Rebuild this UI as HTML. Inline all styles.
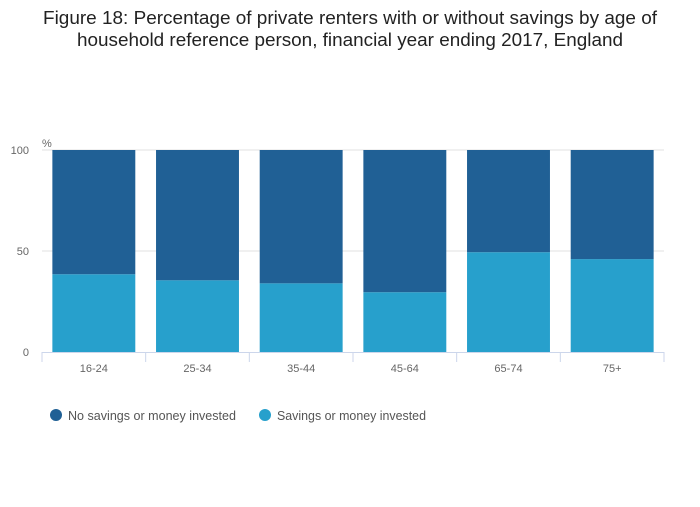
<!DOCTYPE html>
<html><head><meta charset="utf-8"><style>
body{margin:0;background:#fff;font-family:"Liberation Sans",sans-serif}
</style></head><body>
<svg id="chart" width="700" height="502" xmlns="http://www.w3.org/2000/svg">
<text x="350" y="24" text-anchor="middle" font-size="18.5" fill="#222" textLength="614" lengthAdjust="spacingAndGlyphs">Figure 18: Percentage of private renters with or without savings by age of</text>
<text x="350" y="46" text-anchor="middle" font-size="18.5" fill="#222" textLength="546" lengthAdjust="spacingAndGlyphs">household reference person, financial year ending 2017, England</text>
<text x="42" y="147" font-size="11" fill="#666">%</text>
<g id="grid"></g><g id="bars"></g><g id="axis"></g>
<g>
<circle cx="56" cy="415" r="6" fill="#206095"/>
<text x="68" y="420" font-size="12.5" fill="#555" textLength="168" lengthAdjust="spacingAndGlyphs">No savings or money invested</text>
<circle cx="265" cy="415" r="6" fill="#27a0cc"/>
<text x="277" y="420" font-size="12.5" fill="#555" textLength="149" lengthAdjust="spacingAndGlyphs">Savings or money invested</text>
</g>
</svg>
<script>
const categories=["16-24","25-34","35-44","45-64","65-74","75+"];
const savings=[38.5,35.5,34.0,29.6,49.4,46.0];
const noSavings=[61.5,64.5,66.0,70.4,50.6,54.0];
const yTicks=[0,50,100];
const NS="http://www.w3.org/2000/svg";
const x0=42,x1=664,y0=352,y1=150;
const bw=(x1-x0)/categories.length;
const y=v=>y0-(v/100)*(y0-y1);
function mk(t,a,p){const e=document.createElementNS(NS,t);for(const k in a)e.setAttribute(k,a[k]);p.appendChild(e);return e;}
const grid=document.getElementById('grid'),bars=document.getElementById('bars'),axis=document.getElementById('axis');
yTicks.forEach(t=>{
 if(t>0){const l=mk('line',{x1:x0,x2:x1,y1:y(t),y2:y(t),stroke:'#e2e2e2'},grid);
 
 }
 const tx=mk('text',{x:29,y:y(t)+4,'text-anchor':'end','font-size':11,fill:'#666'},grid);tx.textContent=t;
 
 
});
categories.forEach((c,i)=>{
 const bx=x0+i*bw+bw*0.1,w=bw*0.8;
 const r1=mk('rect',{x:bx,y:y(savings[i]),width:w,height:y0-y(savings[i]),fill:'#27a0cc'},bars);
 
 
 const r2=mk('rect',{x:bx,y:y(savings[i]+noSavings[i]),width:w,height:y(savings[i])-y(savings[i]+noSavings[i]),fill:'#206095'},bars);
 
 
 const t=mk('text',{x:x0+(i+0.5)*bw,y:372,'text-anchor':'middle','font-size':11,fill:'#666'},axis);t.textContent=c;
 
 
});
const base=mk('line',{x1:x0,x2:x1,y1:y0+0.5,y2:y0+0.5,stroke:'#ccd6eb'},axis);


for(let i=0;i<=categories.length;i++){const tk=mk('line',{x1:x0+i*bw,x2:x0+i*bw,y1:y0,y2:y0+10,stroke:'#ccd6eb'},axis);
 
 }
</script>
</body></html>
